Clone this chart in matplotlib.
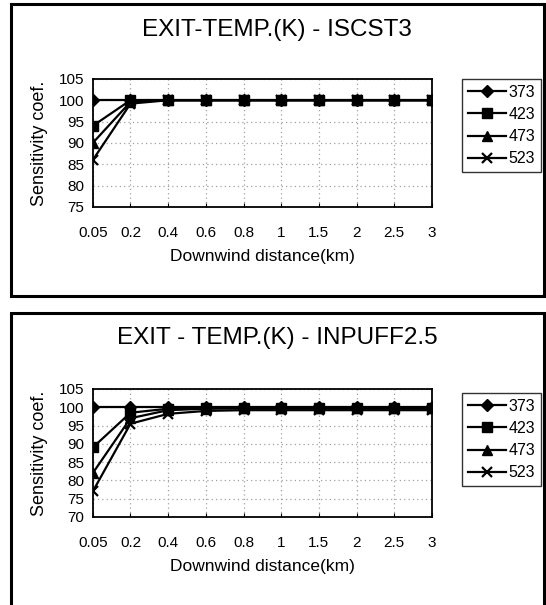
import matplotlib
matplotlib.use("Agg")
import matplotlib.pyplot as plt
from matplotlib.patches import Rectangle

plt.rcParams['font.family'] = ['Liberation Sans', 'DejaVu Sans']

# downwind distance categories (km)
distances = ['0.05', '0.2', '0.4', '0.6', '0.8', '1', '1.5', '2', '2.5', '3']
temps = ['373', '423', '473', '523']
markers = ['D', 's', '^', 'x']

# ISCST3 sensitivity coefficients
isc_373 = [100, 100, 100, 100, 100, 100, 100, 100, 100, 100]
isc_423 = [94, 100, 100, 100, 100, 100, 100, 100, 100, 100]
isc_473 = [90, 99.6, 100, 100, 100, 100, 100, 100, 100, 100]
isc_523 = [86, 99.2, 100, 100, 100, 100, 100, 100, 100, 100]

# INPUFF2.5 sensitivity coefficients
inp_373 = [100, 100, 100, 100, 100, 100, 100, 100, 100, 100]
inp_423 = [89, 98.5, 99.6, 99.8, 99.8, 99.8, 99.8, 99.8, 99.8, 99.8]
inp_473 = [82, 97, 99.2, 99.6, 99.7, 99.7, 99.7, 99.7, 99.7, 99.7]
inp_523 = [77, 95.5, 98.2, 99, 99.2, 99.2, 99.2, 99.2, 99.2, 99.2]

panels = [
    {'title': 'EXIT-TEMP.(K) - ISCST3', 'series': [isc_373, isc_423, isc_473, isc_523],
     'ylim': (75, 105), 'ax': [0.170, 0.658, 0.621, 0.2116], 'leg': (0.846, 0.869),
     'title_y': 0.950, 'box': (0.511, 0.482)},
    {'title': 'EXIT - TEMP.(K) - INPUFF2.5', 'series': [inp_373, inp_423, inp_473, inp_523],
     'ylim': (70, 105), 'ax': [0.170, 0.1455, 0.621, 0.2116], 'leg': (0.846, 0.350),
     'title_y': 0.441, 'box': (-0.02, 0.503)},
]

fig = plt.figure(figsize=(5.46, 6.05), dpi=100)

for p in panels:
    # outer chart frame
    fig.patches.append(Rectangle((0.021, p['box'][0]), 0.975, p['box'][1],
                                 transform=fig.transFigure, fill=False,
                                 edgecolor='black', linewidth=2.2))
    ax = fig.add_axes(p['ax'])
    x = range(len(distances))
    for i, s in enumerate(p['series']):
        ax.plot(x, s, color='black', linewidth=1.6, marker=markers[i],
                markersize=7 if markers[i] != 'D' else 6,
                markeredgewidth=1.6 if markers[i] == 'x' else 1,
                label=temps[i])
    lo, hi = p['ylim']
    ax.set_ylim(lo, hi)
    ax.set_yticks(range(lo, hi + 1, 5))
    ax.set_xlim(0, len(distances) - 1)
    ax.set_xticks(list(x))
    ax.set_xticklabels(distances)
    ax.grid(True, color='#a0a0a0', linestyle=(0, (1, 2.5)), linewidth=0.9)
    ax.tick_params(axis='x', direction='in', length=3, labelsize=11, pad=14)
    ax.tick_params(axis='y', length=0, labelsize=11, pad=6)
    for sp in ax.spines.values():
        sp.set_linewidth(1.3)
    ax.set_xlabel('Downwind distance(km)', fontsize=12.5)
    ax.xaxis.set_label_coords(0.501, -0.33)
    ax.set_ylabel('Sensitivity coef.', fontsize=13)
    ax.yaxis.set_label_coords(-0.133, 0.5)
    fig.text(0.507, p['title_y'], p['title'], ha='center', va='center', fontsize=17.5)
    leg = ax.legend(loc='upper left', bbox_to_anchor=p['leg'],
                    bbox_transform=fig.transFigure, fontsize=11.5, frameon=True,
                    fancybox=False, edgecolor='black', handlelength=2.4,
                    handletextpad=0.15, borderpad=0.35, labelspacing=0.45,
                    borderaxespad=0)
    leg.get_frame().set_linewidth(1.0)

fig.savefig('out.png', dpi=100)
